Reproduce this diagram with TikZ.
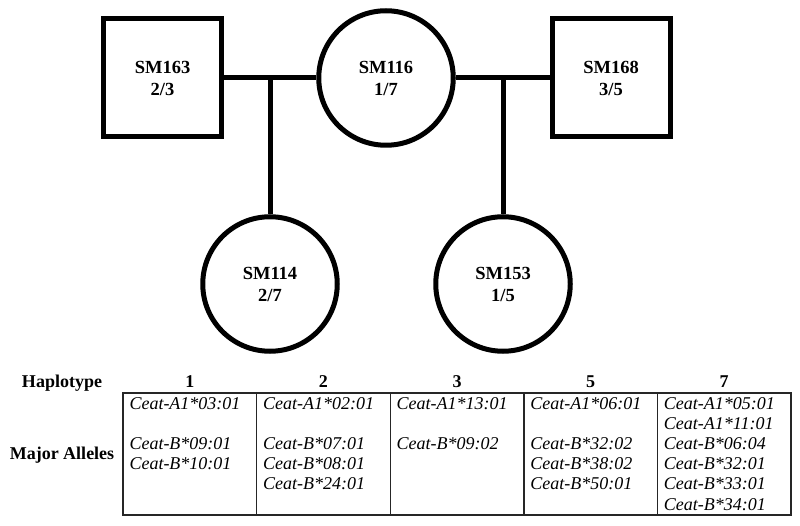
\documentclass[tikz,border=0pt]{standalone}
\usepackage{fontspec}
\setmainfont{Liberation Serif}
\usepackage{tikz}
\usetikzlibrary{positioning,calc}

\begin{document}
\begin{tikzpicture}[x=1pt, y=-1pt, line width=5pt,
    male/.style={draw, rectangle, minimum size=118pt, inner sep=0pt, align=center,
        font=\fontsize{18.5}{22}\selectfont\bfseries},
    female/.style={draw, circle, minimum size=134.5pt, inner sep=0pt, align=center,
        font=\fontsize{18.5}{22}\selectfont\bfseries},
    head/.style={anchor=base, inner sep=0pt, font=\fontsize{18}{20}\selectfont\bfseries},
    allele/.style={anchor=base west, inner sep=0pt, font=\fontsize{18}{20}\selectfont\itshape},
    grid/.style={line width=1.4pt, black!85}]
    \useasboundingbox (0,0) rectangle (800,526);

    % parents
    \node[male] (sm163) at (162.5,78) {SM163\\2/3};
    \node[female] (sm116) at (386,78) {SM116\\1/7};
    \node[male] (sm168) at (611,78) {SM168\\3/5};
    % offspring
    \node[female] (sm114) at (270,284) {SM114\\2/7};
    \node[female] (sm153) at (503,284) {SM153\\1/5};

    \draw (sm163) -- (sm116);
    \draw (sm116) -- (sm168);
    \coordinate (m1) at (sm114 |- sm163);
    \coordinate (m2) at (sm153 |- sm168);
    \draw (m1) -- (sm114);
    \draw (m2) -- (sm153);

    % haplotype table
    \node[head] (hap) at (62,387) {Haplotype};
    \node[head] (maj) at (62,459) {Major Alleles};
    \draw[grid] (123,393) rectangle (791,515);
    \foreach \i/\h/\list in {
        0/1/{1/Ceat-A1*03:01, 3/Ceat-B*09:01, 4/Ceat-B*10:01},
        1/2/{1/Ceat-A1*02:01, 3/Ceat-B*07:01, 4/Ceat-B*08:01, 5/Ceat-B*24:01},
        2/3/{1/Ceat-A1*13:01, 3/Ceat-B*09:02},
        3/5/{1/Ceat-A1*06:01, 3/Ceat-B*32:02, 4/Ceat-B*38:02, 5/Ceat-B*50:01},
        4/7/{1/Ceat-A1*05:01, 2/Ceat-A1*11:01, 3/Ceat-B*06:04, 4/Ceat-B*32:01, 5/Ceat-B*33:01, 6/Ceat-B*34:01}} {
        \node[head] (h\h) at ({123+(\i+0.5)*133.6},387) {\h};
        \ifnum\i>0
            \draw[grid] ({123+\i*133.6},393) -- ({123+\i*133.6},515);
        \fi
        \foreach \r/\t in \list {
            \node[allele] (a\h-\r) at ({127+\i*133.6},{409+(\r-1)*20.2}) {\t};
        }
    }
\end{tikzpicture}
\end{document}
